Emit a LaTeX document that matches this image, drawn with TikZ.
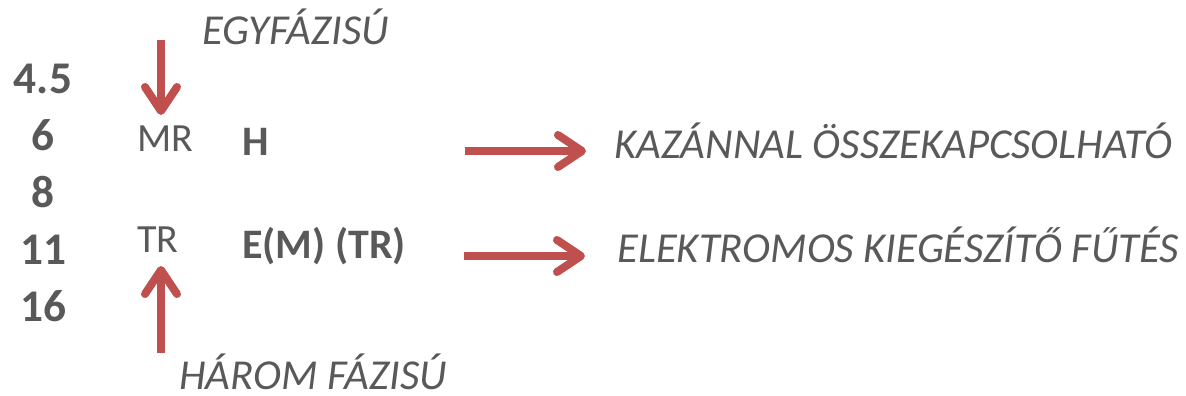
\documentclass[tikz,border=0pt]{standalone}
\usepackage{fontspec}
\setmainfont{Carlito}
\usetikzlibrary{arrows.meta}
\definecolor{txtgray}{HTML}{595959}
\definecolor{arrred}{HTML}{C0504D}
\begin{document}
\begin{tikzpicture}[x=0.75pt,y=-0.75pt,
  num/.style={anchor=base,inner sep=0pt,text=txtgray,font=\fontsize{34}{34}\selectfont\bfseries},
  code/.style={anchor=base west,inner sep=0pt,text=txtgray,font=\fontsize{30}{30}\selectfont},
  bcode/.style={anchor=base west,inner sep=0pt,text=txtgray,font=\fontsize{31.5}{31.5}\selectfont\bfseries},
  note/.style={anchor=base west,inner sep=0pt,text=txtgray,font=\fontsize{32}{32}\selectfont\itshape},
  redarrow/.style={draw=arrred,line width=6pt,-{Straight Barb[round,length=18pt,width=24pt]}}]
\useasboundingbox (0,0) rectangle (1186,396);

% Power ratings
\node[num] (n45) at (43,93) {4.5};
\node[num] (n6)  at (43,150) {6};
\node[num] (n8)  at (43,207) {8};
\node[num] (n11) at (43,264) {11};
\node[num] (n16) at (43,321) {16};

% Types
\node[code] (mr) at (137,151) {MR};
\node[code] (tr) at (137,252) {TR};
\node[bcode] (h) at (242,155) {H};
\node[bcode] (em) at (242,258) {E(M) (TR)};

% Phase labels
\node[note] (egy) at (202,45) {EGYFÁZISÚ};
\node[note] (harom) at (179,389) {HÁROM FÁZISÚ};

% Meanings
\node[note] (kazan) at (614,158) {KAZÁNNAL ÖSSZEKAPCSOLHATÓ};
\node[note] (elektr) at (617,262) {ELEKTROMOS KIEGÉSZÍTŐ FŰTÉS};

% Arrows
\coordinate (egytop) at (161,40);
\coordinate (egytip) at (161,115);
\coordinate (haromtop) at (161,353);
\coordinate (haromtip) at (161,266);
\draw[redarrow] (egytop) -- (egytip);
\draw[redarrow] (haromtop) -- (haromtip);

\coordinate (hstart) at (465,151);
\coordinate (hend) at (586,151);
\coordinate (emstart) at (464,256);
\coordinate (emend) at (585,256);
\draw[redarrow] (hstart) -- (hend);
\draw[redarrow] (emstart) -- (emend);
\end{tikzpicture}
\end{document}
